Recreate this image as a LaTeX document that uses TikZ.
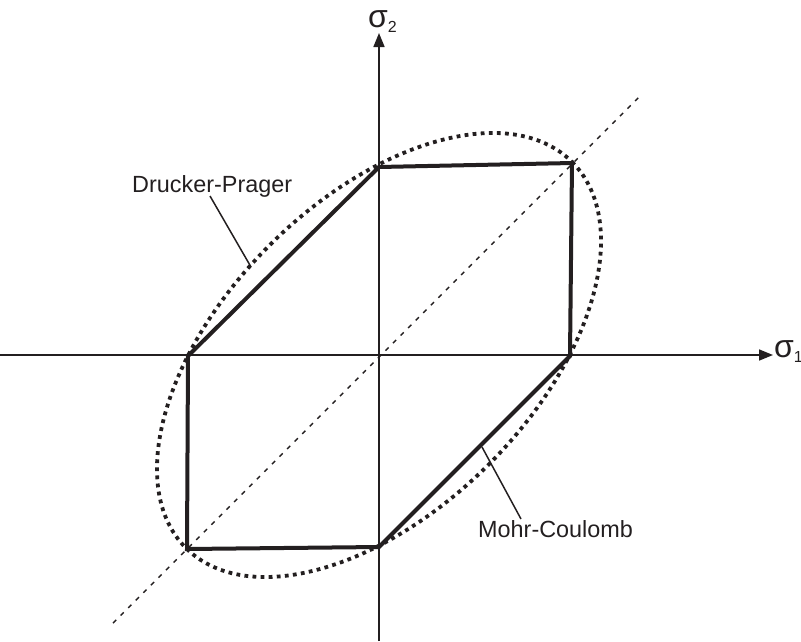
\documentclass[tikz,border=0pt]{standalone}
\usepackage{fontspec}
\setmainfont{Liberation Sans}
\usetikzlibrary{arrows.meta}
\definecolor{ink}{HTML}{231F20}
\tikzset{
  axis/.style={draw=ink, line width=1.7pt, -{Triangle[length=14pt,width=11pt]}},
  hexline/.style={draw=ink, line width=4pt, line join=miter},
  diagline/.style={draw=ink, line width=1.4pt, dash pattern=on 4.5pt off 6.2pt},
  dotline/.style={draw=ink, line width=3.8pt, dash pattern=on 3.8pt off 4.3pt},
  leader/.style={draw=ink, line width=1.5pt},
  lbl/.style={inner sep=0pt, anchor=base west, text=ink, font=\fontsize{23.4}{26}\selectfont},
  sig/.style={inner sep=0pt, anchor=base west, text=ink, font=\fontsize{32}{34}\selectfont}
}
\begin{document}
\begin{tikzpicture}[x=1pt,y=-1pt]
\useasboundingbox (0,0) rectangle (801,641);
\coordinate (O) at (379,355);
% dashed diagonal
\coordinate (d1) at (113,623);
\coordinate (d2) at (642,94);
\draw[diagline] (d1) -- (d2);
% axes
\coordinate (xl) at (0,355);
\coordinate (xr) at (773,355);
\coordinate (yb) at (379,641);
\coordinate (yt) at (379,33);
\draw[axis] (xl) -- (xr);
\draw[axis] (yb) -- (yt);
% dotted ellipse (Drucker-Prager)
\draw[dotline, rotate around={45:(O)}] (O) ellipse [x radius=273, y radius=155];
% hexagon (Mohr-Coulomb)
\coordinate (h1) at (379,167);
\coordinate (h2) at (572,163);
\coordinate (h3) at (570,356);
\coordinate (h4) at (379,547);
\coordinate (h5) at (187,549);
\coordinate (h6) at (188,356);
\draw[hexline] (h1) -- (h2) -- (h3) -- (h4) -- (h5) -- (h6) -- cycle;
% labels
\node[sig] (s2) at (368,27) {σ\raisebox{-5pt}{\fontsize{16}{16}\selectfont 2}};
\node[sig] (s1) at (774,357) {σ\raisebox{-5pt}{\fontsize{16}{16}\selectfont 1}};
\node[lbl] (dp) at (132,192) {Drucker-Prager};
\node[lbl] (mc) at (478,537) {Mohr-Coulomb};
\coordinate (dpstart) at (210,196);
\coordinate (dpend) at (251,267);
\coordinate (mcstart) at (521,519);
\coordinate (mcend) at (482,447);
\draw[leader] (dpstart) -- (dpend);
\draw[leader] (mcstart) -- (mcend);
\end{tikzpicture}
\end{document}
